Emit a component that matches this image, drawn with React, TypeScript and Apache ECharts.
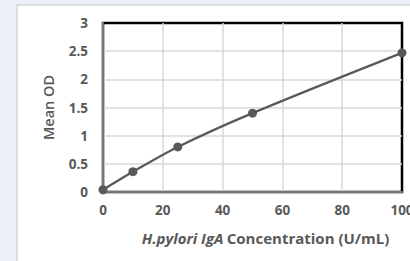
import React, { useEffect, useRef } from "react";
import * as echarts from "echarts";

const concentrations = [0, 10, 25, 50, 100];
const meanOD = [0.04, 0.36, 0.8, 1.4, 2.47];
const yTicks = [0, 0.5, 1, 1.5, 2, 2.5, 3];
const xTicks = [0, 20, 40, 60, 80, 100];

export default function App() {
  const ref = useRef<HTMLDivElement>(null);
  useEffect(() => {
    if (!ref.current) return;
    const chart = echarts.init(ref.current, null, { renderer: "svg" });
    const font = "'Open Sans', 'Noto Sans', sans-serif";
    chart.setOption({
      animation: false,
      backgroundColor: "#eaf0f6",
      graphic: [
        {
          type: "rect",
          shape: { x: 17, y: 5, width: 400, height: 270 },
          style: { fill: "#ffffff", stroke: "#d3d6da", lineWidth: 1.5 },
          z: -10,
          silent: true,
        },
      ],
      grid: {
        left: 103,
        right: 8,
        top: 23,
        bottom: 69,
        outerBoundsMode: "none",
        show: true,
        borderColor: "#000000",
        borderWidth: 2.5,
        backgroundColor: "transparent",
      },
      xAxis: {
        type: "value",
        min: xTicks[0],
        max: xTicks[xTicks.length - 1],
        interval: 20,
        axisLine: { show: true, onZero: false, lineStyle: { color: "#767676", width: 2 } },
        axisTick: { show: false },
        splitLine: {
          show: true,
          showMinLine: false,
          showMaxLine: false,
          lineStyle: { color: "#d9d9d9", width: 1.5 },
        },
        axisLabel: { color: "#595959", fontSize: 13.5, fontWeight: "bold", fontFamily: font, margin: 11 },
        name: "{i|H.pylori IgA} {n|Concentration (U/mL)}",
        nameLocation: "middle",
        nameGap: 38,
        nameTextStyle: {
          padding: [0, 0, 0, 26],
          rich: {
            i: { fontStyle: "italic", fontWeight: "bold", fontSize: 15, color: "#595959", fontFamily: font },
            n: { fontWeight: "bold", fontSize: 15, color: "#595959", fontFamily: font },
          },
        },
      },
      yAxis: {
        type: "value",
        min: yTicks[0],
        max: yTicks[yTicks.length - 1],
        interval: 0.5,
        axisLine: { show: true, onZero: false, lineStyle: { color: "#767676", width: 2 } },
        axisTick: { show: false },
        splitLine: {
          show: true,
          showMinLine: false,
          showMaxLine: false,
          lineStyle: { color: "#d9d9d9", width: 1.5 },
        },
        axisLabel: { color: "#595959", fontSize: 13.5, fontWeight: "bold", fontFamily: font, margin: 15 },
        name: "Mean OD",
        nameLocation: "middle",
        nameGap: 47,
        nameTextStyle: { color: "#595959", fontSize: 14.5, fontWeight: 600, fontFamily: font },
      },
      series: [
        {
          type: "line",
          data: concentrations.map((c, i) => [c, meanOD[i]]),
          smooth: 0.3,
          symbol: "circle",
          symbolSize: 9,
          lineStyle: { color: "#595959", width: 2.2 },
          itemStyle: { color: "#595959" },
          z: 5,
        },
      ],
    });
    return () => chart.dispose();
  }, []);
  return (
    <div
      ref={ref}
      style={{ position: "fixed", left: 0, top: 0, width: 410, height: 261 }}
    />
  );
}
